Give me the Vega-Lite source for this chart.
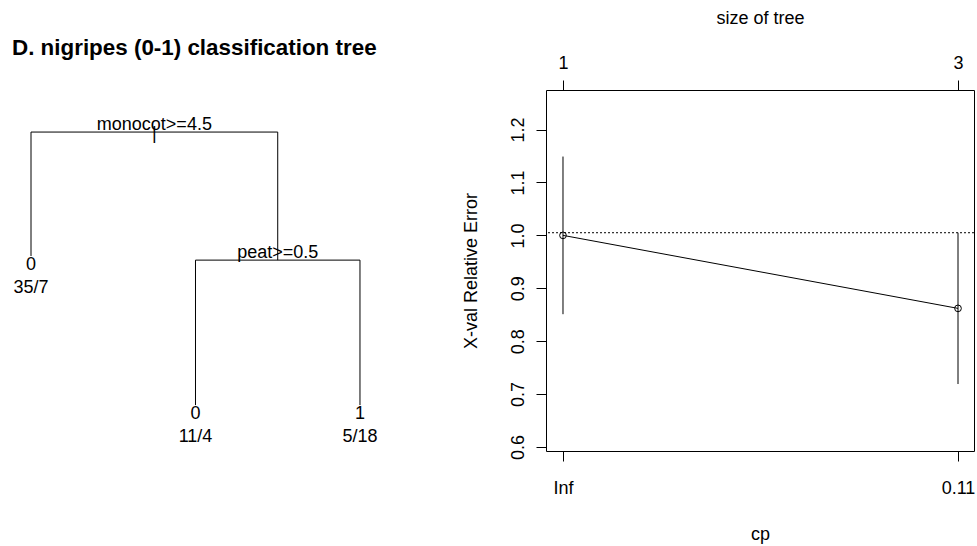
{
  "$schema": "https://vega.github.io/schema/vega-lite/v6.json",
  "padding": {"left": 0, "top": 8, "right": 0, "bottom": 0},
  "background": "white",
  "bounds": "flush",
  "spacing": 75,
  "config": {
    "font": "Liberation Sans",
    "view": {"stroke": null},
    "axis": {
      "grid": false,
      "domain": false,
      "tickColor": "black",
      "tickWidth": 1,
      "tickSize": 10,
      "labelColor": "black",
      "labelFont": "Liberation Sans",
      "labelFontSize": 18,
      "titleColor": "black",
      "titleFont": "Liberation Sans",
      "titleFontSize": 18,
      "titleFontWeight": "normal",
      "labelFlush": false,
      "labelOverlap": false,
      "labelBound": false
    }
  },
  "datasets": {
    "edges": [
      {"x": 1, "x2": 2.5, "h": 1, "h2": 1},
      {"x": 1, "x2": 1, "h": 1, "h2": 0.546},
      {"x": 2.5, "x2": 2.5, "h": 1, "h2": 0.531},
      {"x": 2, "x2": 3, "h": 0.531, "h2": 0.531},
      {"x": 2, "x2": 2, "h": 0.531, "h2": 0},
      {"x": 3, "x2": 3, "h": 0.531, "h2": 0}
    ],
    "splits": [
      {"x": 1.75, "h": 1, "label": "monocot>=4.5"},
      {"x": 2.5, "h": 0.531, "label": "peat>=0.5"}
    ],
    "rootmark": [{"x": 1.75, "h": 1, "mark": "|"}],
    "leaves": [
      {"x": 1, "h": 0.546, "cls": "0", "n": "35/7"},
      {"x": 2, "h": 0, "cls": "0", "n": "11/4"},
      {"x": 3, "h": 0, "cls": "1", "n": "5/18"}
    ],
    "cptable": [
      {"idx": 1, "cp": "Inf", "size": 1, "xerror": 1.0, "lo": 0.851, "hi": 1.149},
      {"idx": 2, "cp": "0.11", "size": 3, "xerror": 0.862, "lo": 0.719, "hi": 1.005}
    ],
    "refline": [{"threshold": 1.005}]
  },
  "hconcat": [
    {
      "width": 470,
      "height": 361,
      "view": {"stroke": "white", "strokeWidth": 0.01},
      "title": {
        "text": "D. nigripes (0-1) classification tree",
        "anchor": "start",
        "fontSize": 22.4,
        "fontWeight": "bold",
        "font": "Liberation Sans",
        "color": "black",
        "baseline": "alphabetic",
        "offset": 13,
        "dx": 11
      },
      "layer": [
        {
          "data": {"name": "edges"},
          "mark": {"type": "rule", "color": "black", "strokeWidth": 1},
          "encoding": {
            "x": {"field": "x", "type": "quantitative", "scale": {"domain": [0.8176, 3.675], "nice": false, "zero": false}, "axis": null},
            "x2": {"field": "x2"},
            "y": {"field": "h", "type": "quantitative", "scale": {"domain": [-0.168, 1.154], "nice": false, "zero": false}, "axis": null},
            "y2": {"field": "h2"}
          }
        },
        {
          "data": {"name": "splits"},
          "mark": {"type": "text", "fontSize": 18, "baseline": "alphabetic", "align": "center", "dy": -2, "color": "black"},
          "encoding": {
            "x": {"field": "x", "type": "quantitative"},
            "y": {"field": "h", "type": "quantitative"},
            "text": {"field": "label"}
          }
        },
        {
          "data": {"name": "rootmark"},
          "mark": {"type": "text", "fontSize": 18, "baseline": "middle", "align": "center", "dy": 2, "color": "black"},
          "encoding": {
            "x": {"field": "x", "type": "quantitative"},
            "y": {"field": "h", "type": "quantitative"},
            "text": {"field": "mark"}
          }
        },
        {
          "data": {"name": "leaves"},
          "mark": {"type": "text", "fontSize": 18, "baseline": "top", "align": "center", "color": "black"},
          "encoding": {
            "x": {"field": "x", "type": "quantitative"},
            "y": {"field": "h", "type": "quantitative"},
            "text": {"field": "cls"}
          }
        },
        {
          "data": {"name": "leaves"},
          "mark": {"type": "text", "fontSize": 18, "baseline": "top", "align": "center", "dy": 23, "color": "black"},
          "encoding": {
            "x": {"field": "x", "type": "quantitative"},
            "y": {"field": "h", "type": "quantitative"},
            "text": {"field": "n"}
          }
        }
      ]
    },
    {
      "width": 428,
      "height": 361,
      "view": {"stroke": "black", "strokeWidth": 1},
      "resolve": {"axis": {"x": "independent"}},
      "layer": [
        {
          "data": {"name": "cptable"},
          "mark": {"type": "rule", "color": "black", "strokeWidth": 1},
          "encoding": {
            "x": {
              "field": "idx", "type": "quantitative",
              "scale": {"domain": [0.957, 2.0405], "nice": false, "zero": false},
              "axis": {
                "orient": "bottom",
                "values": [1, 2],
                "labelExpr": "datum.value == 1 ? 'Inf' : '0.11'",
                "labelPadding": 18,
                "title": "cp",
                "titlePadding": 28
              }
            },
            "y": {
              "field": "lo", "type": "quantitative",
              "scale": {"domain": [0.5924, 1.2748], "nice": false, "zero": false},
              "axis": {
                "values": [0.6, 0.7, 0.8, 0.9, 1.0, 1.1, 1.2],
                "format": ".1f",
                "labelAngle": 270,
                "labelAlign": "center",
                "labelBaseline": "bottom",
                "labelPadding": 9,
                "title": "X-val Relative Error",
                "titlePadding": 29
              }
            },
            "y2": {"field": "hi"}
          }
        },
        {
          "data": {"name": "cptable"},
          "mark": {"type": "line", "color": "black", "strokeWidth": 1},
          "encoding": {
            "x": {"field": "idx", "type": "quantitative", "axis": null},
            "y": {"field": "xerror", "type": "quantitative"}
          }
        },
        {
          "data": {"name": "cptable"},
          "mark": {"type": "point", "shape": "circle", "filled": false, "color": "black", "strokeWidth": 1, "size": 45, "opacity": 1},
          "encoding": {
            "x": {"field": "idx", "type": "quantitative", "axis": null},
            "y": {"field": "xerror", "type": "quantitative"}
          }
        },
        {
          "data": {"name": "refline"},
          "mark": {"type": "rule", "color": "black", "strokeWidth": 1, "strokeDash": [2, 2]},
          "encoding": {
            "y": {"field": "threshold", "type": "quantitative"}
          }
        },
        {
          "data": {"name": "cptable"},
          "mark": {"type": "point", "opacity": 0},
          "encoding": {
            "x": {
              "field": "idx", "type": "quantitative",
              "axis": {
                "orient": "top",
                "values": [1, 2],
                "labelExpr": "datum.value == 1 ? '1' : '3'",
                "labelPadding": 8,
                "title": "size of tree",
                "titlePadding": 27
              }
            },
            "y": {"field": "xerror", "type": "quantitative"}
          }
        }
      ]
    }
  ]
}
